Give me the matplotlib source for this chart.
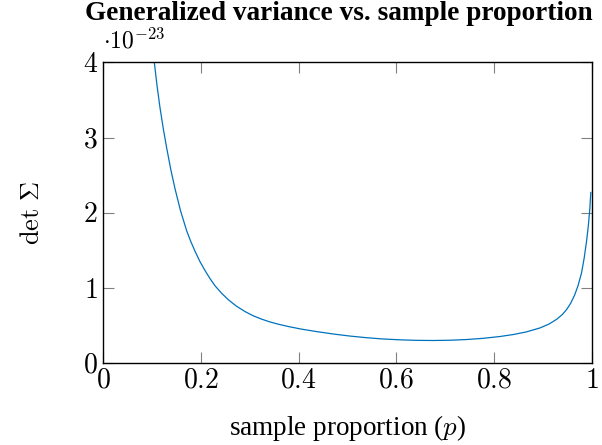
import matplotlib
matplotlib.use("Agg")
import matplotlib.pyplot as plt

plt.rcParams['font.family'] = 'Liberation Serif'
plt.rcParams['mathtext.fontset'] = 'cm'

# Data (det Sigma in units of 1e-23)
p = [0.100, 0.1044, 0.110, 0.116, 0.123, 0.1298, 0.138, 0.1468, 0.158,
     0.1707, 0.179, 0.1877, 0.198, 0.208, 0.218, 0.2287, 0.242,
     0.2559, 0.272, 0.290, 0.306, 0.324, 0.340, 0.358, 0.380, 0.405, 0.435,
     0.471, 0.505, 0.539, 0.573, 0.607, 0.641, 0.6755, 0.710, 0.744, 0.778,
     0.812, 0.840, 0.866, 0.894, 0.912, 0.928, 0.940, 0.9486, 0.957, 0.965,
     0.972, 0.979, 0.9845, 0.9895, 0.993, 0.996, 0.998]
det_sigma = [4.40, 4.00, 3.69, 3.40, 3.11, 2.86, 2.58, 2.32, 2.03,
             1.76, 1.62, 1.49, 1.35, 1.235, 1.13, 1.03, 0.932,
             0.845, 0.762, 0.688, 0.634, 0.587, 0.552, 0.520, 0.487, 0.455, 0.423,
             0.389, 0.362, 0.340, 0.323, 0.312, 0.305, 0.303, 0.3065, 0.316, 0.332,
             0.356, 0.383, 0.417, 0.47, 0.52, 0.584, 0.65, 0.715, 0.80, 0.908,
             1.034, 1.20, 1.40, 1.63, 1.83, 2.05, 2.27]

xticks = [0, 0.2, 0.4, 0.6, 0.8, 1]
xtick_labels = ['$0$', '$0.2$', '$0.4$', '$0.6$', '$0.8$', '$1$']
yticks = [0, 1, 2, 3, 4]
ytick_labels = ['$0$', '$1$', '$2$', '$3$', '$4$']

fig = plt.figure(figsize=(6.02, 4.45), dpi=100)
ax = fig.add_axes([0.1716, 0.1836, 0.983 - 0.1716, 0.860 - 0.1836])

ax.plot(p, det_sigma, color='#0072BD', linewidth=0.9, clip_on=True,
        solid_joinstyle='round')

ax.set_xlim(0, 1)
ax.set_ylim(0, 4)
ax.set_xticks(xticks)
ax.set_xticklabels(xtick_labels, fontsize=20)
ax.set_yticks(yticks)
ax.set_yticklabels(ytick_labels, fontsize=20)
ax.tick_params(direction='in', length=8, width=0.8, color='#808080',
               top=True, right=True, pad=4)
for s in ax.spines.values():
    s.set_linewidth(1.0)

# exponent label as pgfplots puts it
ax.text(0, 1.03, r'$\cdot 10^{-23}$', transform=ax.transAxes,
        fontsize=17, ha='left', va='bottom')

ax.set_xlabel('sample proportion ($p$)', fontsize=19.5, labelpad=14)
ax.set_ylabel(r'$\det\,\Sigma$', fontsize=19, labelpad=28)
fig.text(339 / 602, 1 - 14 / 445, 'Generalized variance vs. sample proportion',
         fontsize=19.6, fontweight='bold', ha='center', va='center')

fig.savefig('out.png', dpi=100)
